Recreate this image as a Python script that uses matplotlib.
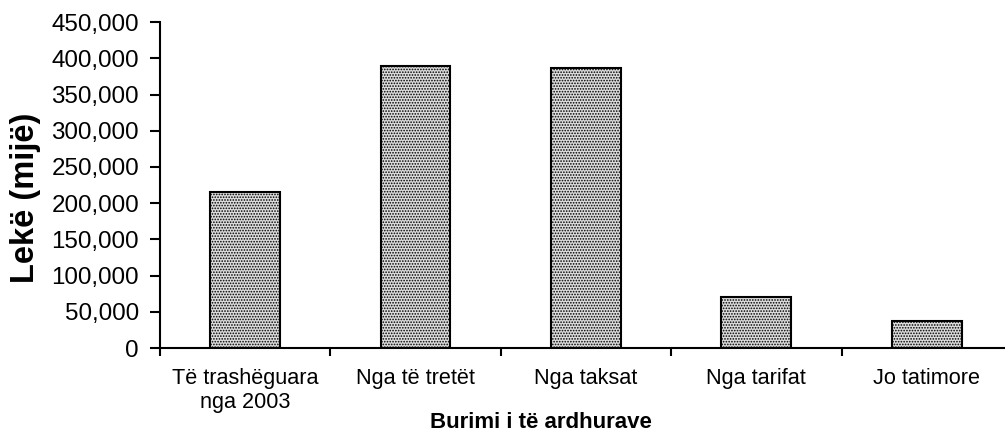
import numpy as np
import matplotlib.pyplot as plt
from matplotlib.ticker import FuncFormatter

plt.rcParams['font.family'] = ['Liberation Sans', 'DejaVu Sans']
plt.rcParams['hatch.color'] = '#8a8a8a'
plt.rcParams['hatch.linewidth'] = 0.8

categories = ["Të trashëguara\nnga 2003", "Nga të tretët", "Nga taksat", "Nga tarifat", "Jo tatimore"]
values = [215000, 389000, 387000, 70000, 37000]

fig = plt.figure(figsize=(10.05, 4.33), dpi=100)
ax = fig.add_axes([0.159, 0.196, 0.848, 0.753])

x = np.arange(len(categories))
ax.bar(x, values, width=0.41, color='#dcdcdc', edgecolor='black', linewidth=1.5, hatch='......')

ax.set_xlim(-0.5, len(categories) - 0.5)
ax.set_ylim(0, 450000)
ax.set_yticks(np.arange(0, 450001, 50000))
ax.yaxis.set_major_formatter(FuncFormatter(lambda v, p: f"{int(v):,}"))
ax.set_xticks(np.arange(-0.5, len(categories) - 0.4, 1))
ax.set_xticklabels([])
ax.set_xticks(x, minor=True)
ax.set_xticklabels(categories, minor=True, fontsize=15.6)
ax.tick_params(axis='x', which='minor', length=0, pad=14)
ax.tick_params(axis='x', which='major', length=6, width=1.5, direction='out')
ax.tick_params(axis='y', length=7, width=1.5, direction='out', labelsize=17.4, pad=8)

for s in ['top', 'right']:
    ax.spines[s].set_visible(False)
for s in ['left', 'bottom']:
    ax.spines[s].set_linewidth(1.5)

# axis titles placed where the original has them
fig.text(26 / 1005, 1 - 198 / 433, "Lekë (mijë)", rotation=90, ha='center', va='center',
         fontsize=23.5, fontweight='bold')
fig.text(541 / 1005, 1 - 422 / 433, "Burimi i të ardhurave", ha='center', va='center',
         fontsize=16, fontweight='bold')

plt.savefig("out.png", dpi=100)
